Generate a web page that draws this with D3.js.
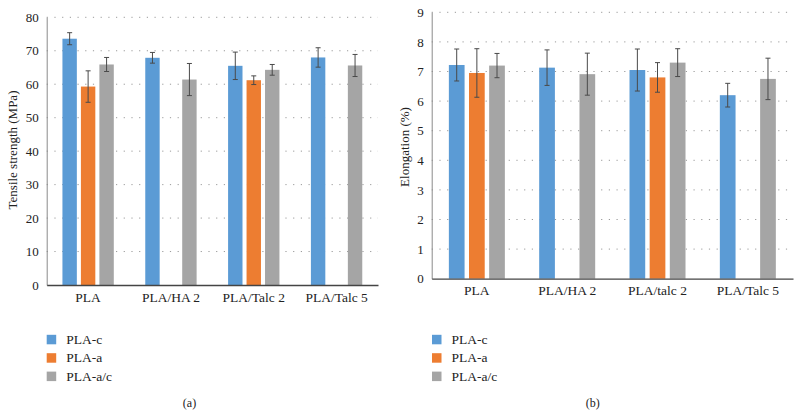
<!DOCTYPE html>
<html><head><meta charset="utf-8">
<script src="https://cdn.jsdelivr.net/npm/d3@7"></script>
<style>body{margin:0;background:#fff}svg{display:block}text{font-family:"Liberation Serif","DejaVu Serif",serif;fill:#222}</style>
</head><body>
<svg id="c" width="800" height="417"></svg>
<script>
const series = ["PLA-c","PLA-a","PLA-a/c"];
const colors = ["#5B9BD5","#ED7D31","#A5A5A5"];

const catsA = ["PLA","PLA/HA 2","PLA/Talc 2","PLA/Talc 5"];
const tensileC = [73.6, 67.9, 65.5, 68.0];
const tensileA = [59.3, null, 61.2, null];
const tensileAC = [65.9, 61.4, 64.3, 65.6];
const tensileErrC = [1.8, 1.6, 4.1, 2.9];
const tensileErrA = [4.7, null, 1.3, null];
const tensileErrAC = [2.1, 4.8, 1.6, 3.3];
const tensileTicks = [0,10,20,30,40,50,60,70,80];

const catsB = ["PLA","PLA/HA 2","PLA/talc 2","PLA/Talc 5"];
const elongC = [7.22, 7.13, 7.05, 6.20];
const elongA = [6.95, null, 6.80, null];
const elongAC = [7.20, 6.91, 7.30, 6.75];
const elongErrC = [0.54, 0.60, 0.71, 0.40];
const elongErrA = [0.82, null, 0.50, null];
const elongErrAC = [0.41, 0.71, 0.47, 0.70];
const elongTicks = [0,1,2,3,4,5,6,7,8,9];

const svg = d3.select("#c");

function panel(o){
  const g = svg.append("g");
  const x = d3.scaleBand().domain(o.cats).range([o.x0,o.x1]).paddingInner(0.38).paddingOuter(0.19);
  const xs = d3.scaleBand().domain(series).range([0,x.bandwidth()]).paddingInner(0.22);
  const y = d3.scaleLinear().domain([0,o.max]).range([o.y0,o.y1]);
  // gridlines
  g.append("g").selectAll("line").data(o.ticks.filter(t=>t>0)).join("line")
    .attr("x1",o.x0).attr("x2",o.x1).attr("y1",d=>y(d)).attr("y2",d=>y(d))
    .attr("stroke","#9a9a9a").attr("stroke-width",1).attr("stroke-dasharray","1.2,6.5");
  // bars
  const vals = [o.c,o.a,o.ac], errs=[o.ec,o.ea,o.eac];
  const data=[];
  o.cats.forEach((cat,i)=>series.forEach((s,j)=>{ if(vals[j][i]!=null) data.push({cat,s,j,v:vals[j][i],e:errs[j][i]}); }));
  g.append("g").selectAll("rect").data(data).join("rect")
    .attr("x",d=>x(d.cat)+xs(d.s)).attr("width",xs.bandwidth())
    .attr("y",d=>y(d.v)).attr("height",d=>y(0)-y(d.v)).attr("fill",d=>colors[d.j]);
  const eb = g.append("g").attr("stroke","#4a4a4a").attr("stroke-width",1);
  data.forEach(d=>{
    const cx = x(d.cat)+xs(d.s)+xs.bandwidth()/2;
    eb.append("line").attr("x1",cx).attr("x2",cx).attr("y1",y(d.v+d.e)).attr("y2",y(d.v-d.e));
    [d.v+d.e,d.v-d.e].forEach(v=>eb.append("line").attr("x1",cx-2.5).attr("x2",cx+2.5).attr("y1",y(v)).attr("y2",y(v)));
  });
  // y axis
  const ya = g.append("g").attr("transform",`translate(${o.x0},0)`)
    .call(d3.axisLeft(y).tickValues(o.ticks).tickSize(0).tickPadding(8).tickFormat(d3.format("d")));
  ya.select(".domain").attr("stroke","#8a8a8a");
  ya.selectAll("text").style("font-size","13px").attr("fill","#222").style("font-family","'Liberation Serif',serif");
  // x axis
  const xa = g.append("g").attr("transform",`translate(0,${o.y0})`)
    .call(d3.axisBottom(x).tickSize(0).tickPadding(o.xpad));
  xa.select(".domain").attr("stroke","#444").attr("stroke-width",1.3);
  xa.selectAll("text").style("font-size","13.5px").attr("fill","#222").style("font-family","'Liberation Serif',serif");
  // y title
  g.append("text").attr("transform",`translate(${o.tx},${o.ty}) rotate(-90)`)
    .attr("text-anchor","middle").style("font-size","13px").text(o.title);
  // legend
  series.forEach((s,j)=>{
    const cy = 339.5 + j*18.4;
    g.append("rect").attr("x",o.lx).attr("y",cy-4.7).attr("width",9.5).attr("height",9.5).attr("fill",colors[j]);
    g.append("text").attr("x",o.lx+19.5).attr("y",cy+4.5).style("font-size","13.5px").text(s);
  });
  g.append("text").attr("x",o.capx).attr("y",407).attr("text-anchor","middle").style("font-size","12px").text(o.cap);
}

panel({cats:catsA,x0:46.7,x1:378,y0:285,y1:17.3,max:80,ticks:tensileTicks,
  c:tensileC,a:tensileA,ac:tensileAC,ec:tensileErrC,ea:tensileErrA,eac:tensileErrAC,
  title:"Tensile strength (MPa)",tx:17,ty:150,lx:46.7,capx:189.5,cap:"(a)",xpad:7});
panel({cats:catsB,x0:431.7,x1:793,y0:278.7,y1:12.3,max:9,ticks:elongTicks,
  c:elongC,a:elongA,ac:elongAC,ec:elongErrC,ea:elongErrA,eac:elongErrAC,
  title:"Elongation (%)",tx:409,ty:147,lx:432,capx:592.7,cap:"(b)",xpad:7});
</script>
</body></html>
